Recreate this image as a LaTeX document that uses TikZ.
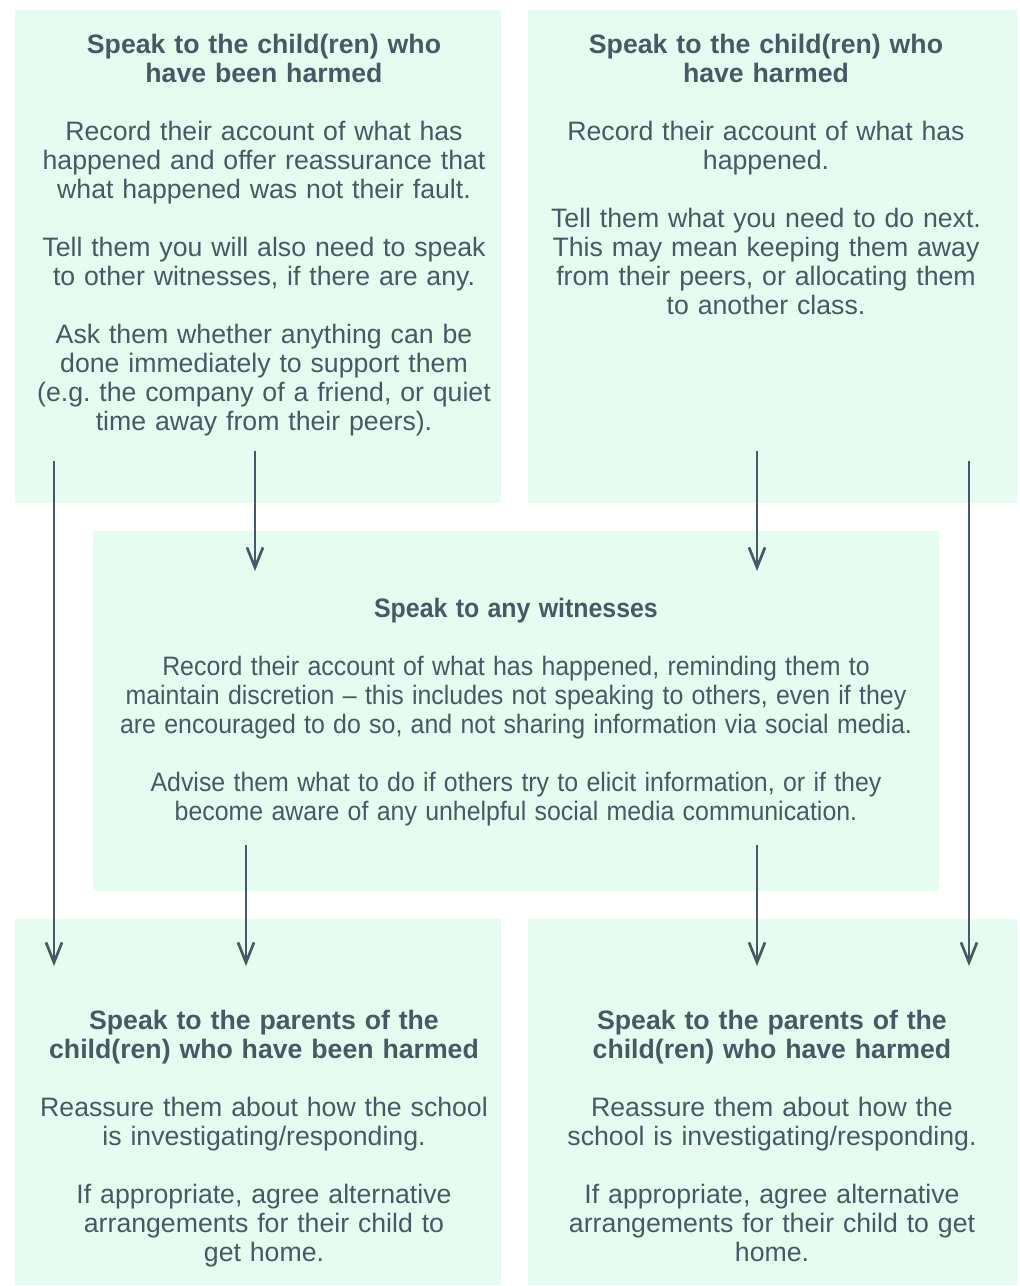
\documentclass[tikz,border=0pt]{standalone}
\usepackage{fontspec}
\setmainfont{Liberation Sans}
\usetikzlibrary{arrows.meta,fit,positioning}

\definecolor{mint}{HTML}{E6FCF0}
\definecolor{slate}{HTML}{455A64}

\tikzset{
	box/.style={fill=mint, draw=none, inner sep=0pt},
	txt/.style={text=slate, align=center, text width=#1, inner sep=0pt, anchor=base,
		font=\fontsize{20}{21.75}\selectfont},
	flow/.style={draw=slate, line width=2pt, -{Straight Barb[length=15pt,width=12pt]}}
}
\newcommand{\gap}{\\[21.75pt]}

\begin{document}
\begin{tikzpicture}[x=0.75pt, y=-0.75pt]
	\useasboundingbox (0,0) rectangle (1020,1286);
	% boxes
	\node[box, fit={(15,10) (501,503)}] (harmedbox) {};
	\node[box, fit={(528,10) (1017,503)}] (harmerbox) {};
	\node[box, fit={(93,531) (939,891)}] (witnessbox) {};
	\node[box, fit={(15,919) (501,1285)}] (hparentbox) {};
	\node[box, fit={(528,919) (1017,1285)}] (rparentbox) {};
	% texts
	\node[txt=360pt] (harmed) at (264,53) {\textbf{Speak to the child(ren) who}\\
		\textbf{have been harmed}\gap
		Record their account of what has\\
		happened and offer reassurance that\\
		what happened was not their fault.\gap
		Tell them you will also need to speak\\
		to other witnesses, if there are any.\gap
		Ask them whether anything can be\\
		done immediately to support them\\
		(e.g.\ the company of a friend, or quiet\\
		time away from their peers).};
	\node[txt=360pt] (harmer) at (766,53) {\textbf{Speak to the child(ren) who}\\
		\textbf{have harmed}\gap
		Record their account of what has\\
		happened.\gap
		Tell them what you need to do next.\\
		This may mean keeping them away\\
		from their peers, or allocating them\\
		to another class.};
	\node[txt=680pt, xscale=0.934, transform shape] (witness) at (516,617) {\textbf{Speak to any witnesses}\gap
		Record their account of what has happened, reminding them to\\
		maintain discretion -- this includes not speaking to others, even if they\\
		are encouraged to do so, and not sharing information via social media.\gap
		Advise them what to do if others try to elicit information, or if they\\
		become aware of any unhelpful social media communication.};
	\node[txt=360pt] (hparent) at (264,1029) {\textbf{Speak to the parents of the}\\
		\textbf{child(ren) who have been harmed}\gap
		Reassure them about how the school\\
		is investigating/responding.\gap
		If appropriate, agree alternative\\
		arrangements for their child to\\
		get home.};
	\node[txt=360pt] (rparent) at (772,1029) {\textbf{Speak to the parents of the}\\
		\textbf{child(ren) who have harmed}\gap
		Reassure them about how the\\
		school is investigating/responding.\gap
		If appropriate, agree alternative\\
		arrangements for their child to get\\
		home.};
	% arrow ends
	\coordinate (h1) at (54,461);
	\coordinate (h2) at (255,451);
	\coordinate (r1) at (757,451);
	\coordinate (r2) at (969,461);
	\coordinate (w1) at (255,571);
	\coordinate (w2) at (757,571);
	\coordinate (w3) at (246,845);
	\coordinate (w4) at (757,845);
	\coordinate (p1) at (54,966);
	\coordinate (p2) at (246,966);
	\coordinate (p3) at (757,966);
	\coordinate (p4) at (969,966);
	% arrows
	\draw[flow] (h1) -- (p1);
	\draw[flow] (h2) -- (w1);
	\draw[flow] (r1) -- (w2);
	\draw[flow] (r2) -- (p4);
	\draw[flow] (w3) -- (p2);
	\draw[flow] (w4) -- (p3);
\end{tikzpicture}
\end{document}
